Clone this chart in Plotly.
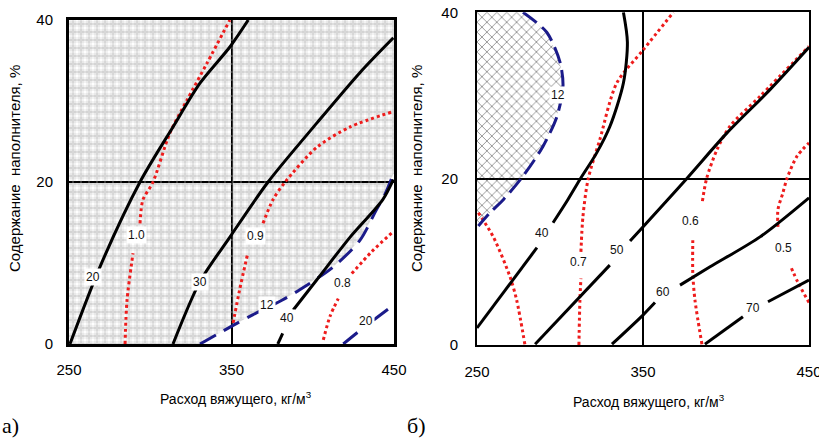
import plotly.graph_objects as go

# ---------------- data ----------------
X_TICKS = [250, 350, 450]
Y_TICKS = [0, 20, 40]
X_TITLE = "Расход вяжущего, кг/м<sup>3</sup>"
Y_TITLE = "Содержание  наполнителя, %"

# panel a) black solid isolines
A_S20_X = [250.6, 269, 293.7, 314, 330.6, 349.1, 360.3]
A_S20_Y = [0, 9.5, 20, 26.8, 32.2, 36.7, 40]
A_S30_X = [314, 330.6, 349, 372.5, 402.6, 429, 449.6]
A_S30_Y = [0, 7.7, 13.2, 20, 27.3, 33.5, 37.8]
A_S40_X = [378.5, 381.5, None, 388, 402.4, 423, 443, 449.6]
A_S40_Y = [0, 1.3, None, 4.2, 7.9, 13.2, 17.8, 20.3]
# panel a) red dotted isolines
A_R10_X = [284.5, 285.7, 289.4, None, 293.7, 295.5, 301.7, 312, 322.6, 335, 349]
A_R10_Y = [0, 5.4, 11.2, None, 14.9, 17.8, 20, 26, 30.1, 34.7, 40]
A_R09_X = [351, 355, 360, None, 369.4, 375.5, 383, 402.6, 423, 449.6]
A_R09_Y = [2.6, 6.7, 11.2, None, 14.9, 17.8, 20, 24.3, 26.8, 28.7]
A_R08_X = [406.5, 410.6, 415.7, None, 424, 436.3, 449.6]
A_R08_Y = [0.5, 3.4, 5.6, None, 8.7, 11.4, 13.9]
# panel a) blue dashed isolines
A_B12_X = [330.6, 351, 363, 381, 392, 412.5, 429, 439, 444.5, 449.6]
A_B12_Y = [0, 2.3, 3.6, 5.4, 6.7, 9.5, 12.8, 16.5, 18.5, 21]
A_B20_X = [418.8, 428, 449.6]
A_B20_Y = [0, 1.5, 4.8]

# panel б) black solid isolines
B_S40_X = [250, 286.1, None, 295.8, 304.8, 312, 322.1, 330.1, 338.2, 340.6, 338.2]
B_S40_Y = [2.05, 11.7, None, 14.7, 17.5, 19.9, 23.1, 26.3, 31.5, 36.4, 40]
B_S50_X = [285, 330, None, 342.2, 376.3, 400.6, 426.5, 450]
B_S50_Y = [0.1, 9.6, None, 12.5, 20, 25.5, 30.7, 35.8]
B_S60_X = [331.3, 350, 357.2, None, 372.3, 390.4, 420.5, 450]
B_S60_Y = [0.1, 3.6, 5.1, None, 7.2, 9.4, 13, 17.7]
B_S70_X = [387.3, 410.2, None, 425.3, 450]
B_S70_Y = [0.1, 3.4, None, 5.2, 7.8]
# panel б) red dotted isolines
B_R08_X = [250.8, 259.8, 269.9, 273.9, 278.9]
B_R08_Y = [15.9, 13, 8.2, 5.4, 0]
B_R07_X = [311.4, 312, 312.6, None, 312.6, 313.8, 316.9, 324, 334.2, 350.2, 368.3]
B_R07_Y = [0, 5.4, 8, None, 11.2, 15.4, 19.9, 24.7, 31.5, 35.5, 40]
B_R06_X = [385.5, 381.3, 380, 380, None, 385.8, 388.3, 394.6, 402.4, 420.5, 450]
B_R06_Y = [0.1, 5.4, 8.6, 12.6, None, 17.3, 20, 23.5, 26.3, 29.9, 35.9]
B_R05_X = [450, 443.4, 438.6, None, 431.3, 431.3, 434.3, 436.7, 442.8, 450]
B_R05_Y = [5.1, 7.5, 9.6, None, 14.2, 16.3, 18.3, 20, 22.7, 24.3]
# panel б) blue dashed isoline bounding the hatched zone
B_B12_X = [277.7, 292, 300, 301.8, 298.2, 289.8, 277.7, 266, 257.8, 250.8]
B_B12_Y = [40, 37.6, 34, 31.1, 27.5, 23.9, 20.3, 17.5, 15.9, 14.3]

# isoline labels: (text, x, y)
A_LABELS = [("20", 264.8, 8.3), ("30", 330.6, 7.7), ("40", 384.2, 3.2),
            ("1.0", 291.8, 13.5), ("0.9", 364.5, 13.3), ("0.8", 418.6, 7.5),
            ("12", 371.8, 4.8), ("20", 432.8, 2.8)]
B_LABELS = [("12", 298.8, 30), ("40", 289, 13.5), ("50", 334.2, 11.4),
            ("60", 362.2, 6.4), ("70", 416.4, 4.5), ("0.7", 311, 10),
            ("0.6", 378.9, 14.9), ("0.5", 434.5, 11.65)]

# ---------------- figure ----------------
W, H = 819, 438
BLACK = "#000000"
RED = "#ee1c1c"
NAVY = "#1b1b8a"

fig = go.Figure()

def line(x, y, color, width, dash, xa="x", ya="y"):
    fig.add_trace(go.Scatter(x=x, y=y, mode="lines", xaxis=xa, yaxis=ya,
                             line=dict(color=color, width=width, dash=dash, shape="spline", smoothing=0.8),
                             connectgaps=False, hoverinfo="skip", showlegend=False))

# hatched zone, panel a) (grid paper)
hx = [X_TICKS[0]] + A_B12_X + [X_TICKS[-1], X_TICKS[-1], X_TICKS[0]]
hy = [Y_TICKS[0]] + A_B12_Y + [A_B12_Y[-1], Y_TICKS[-1], Y_TICKS[-1]]
fig.add_trace(go.Scatter(x=hx, y=hy, fill="toself", mode="none", xaxis="x", yaxis="y",
                         fillcolor="rgba(0,0,0,0)",
                         fillpattern=dict(shape="+", size=8, solidity=0.3, fgcolor="#a8a8a8",
                                          bgcolor="rgba(255,255,255,0)"),
                         hoverinfo="skip", showlegend=False))
fig.add_trace(go.Scatter(x=hx, y=hy, fill="toself", mode="none", xaxis="x", yaxis="y",
                         fillcolor="rgba(0,0,0,0)",
                         fillpattern=dict(shape="+", size=4, solidity=0.1, fgcolor="#000000",
                                          fgopacity=0.45, bgcolor="rgba(255,255,255,0)"),
                         hoverinfo="skip", showlegend=False))

# hatched zone, panel б) (cross hatch)
bx = B_B12_X + [X_TICKS[0], X_TICKS[0]]
by = B_B12_Y + [B_B12_Y[-1], Y_TICKS[-1]]
fig.add_trace(go.Scatter(x=bx, y=by, fill="toself", mode="none", xaxis="x2", yaxis="y2",
                         fillcolor="rgba(0,0,0,0)",
                         fillpattern=dict(shape="x", size=7, solidity=0.25, fgcolor="#2a2a2a",
                                          bgcolor="rgba(255,255,255,0)"),
                         hoverinfo="skip", showlegend=False))

# panel a) lines
for xs, ys in [(A_R10_X, A_R10_Y), (A_R09_X, A_R09_Y), (A_R08_X, A_R08_Y)]:
    line(xs, ys, RED, 3, "3px,3px")
line(A_B12_X, A_B12_Y, NAVY, 3, "18px,9px")
line(A_B20_X, A_B20_Y, NAVY, 3, "18px,9px,3px,9px")
for xs, ys in [(A_S20_X, A_S20_Y), (A_S30_X, A_S30_Y), (A_S40_X, A_S40_Y)]:
    line(xs, ys, BLACK, 3, "solid")

# panel б) lines
for xs, ys in [(B_R08_X, B_R08_Y), (B_R07_X, B_R07_Y), (B_R06_X, B_R06_Y), (B_R05_X, B_R05_Y)]:
    line(xs, ys, RED, 3, "3px,3px", "x2", "y2")
line(B_B12_X, B_B12_Y, NAVY, 3, "17px,7px", "x2", "y2")
for xs, ys in [(B_S40_X, B_S40_Y), (B_S50_X, B_S50_Y), (B_S60_X, B_S60_Y), (B_S70_X, B_S70_Y)]:
    line(xs, ys, BLACK, 3, "solid", "x2", "y2")

lab_font = dict(family="Liberation Sans", size=12, color="#111")
ann = []
for txt, x, y in A_LABELS:
    ann.append(dict(text=txt, x=x, y=y, xref="x", yref="y", showarrow=False, bgcolor="white",
                    borderpad=1, font=lab_font))
for txt, x, y in B_LABELS:
    ann.append(dict(text=txt, x=x, y=y, xref="x2", yref="y2", showarrow=False, bgcolor="white",
                    borderpad=1, font=lab_font))

def paper_text(text, px, py, size, family="Liberation Sans", angle=0):
    return dict(text=text, x=px / W, y=1 - py / H, xref="paper", yref="paper", showarrow=False,
                xanchor="center", yanchor="middle", textangle=angle,
                font=dict(family=family, size=size, color="black"))

# axis titles and panel letters
ann += [
    paper_text(X_TITLE, 236, 398, 14),
    paper_text(X_TITLE, 649, 401, 14),
    paper_text(Y_TITLE, 14, 169, 15, angle=-90),
    paper_text(Y_TITLE, 416, 169, 15, angle=-90),
    paper_text("а)", 10, 425, 22, family="Liberation Serif"),
    paper_text("б)", 416, 425, 22, family="Liberation Serif"),
]

axis_common = dict(showgrid=True, gridcolor=BLACK, gridwidth=2, showline=True, linecolor=BLACK,
                   mirror=True, zeroline=False, ticks="", fixedrange=True, automargin=False,
                   ticklabeloverflow="allow",
                   tickfont=dict(family="Liberation Sans", size=15, color="black"))

fig.update_layout(
    width=W, height=H, margin=dict(l=0, r=0, t=0, b=0, autoexpand=False),
    paper_bgcolor="white", plot_bgcolor="white",
    xaxis=dict(domain=[69 / W, 394 / W], range=[250, 450], tickvals=X_TICKS, anchor="y",
               linewidth=3, ticklabelstandoff=10, **axis_common),
    yaxis=dict(domain=[1 - 344 / H, 1 - 20 / H], range=[0, 40], tickvals=Y_TICKS, anchor="x",
               linewidth=3, ticklabelstandoff=10, **axis_common),
    xaxis2=dict(domain=[477 / W, 809 / W], range=[250, 450], tickvals=X_TICKS, anchor="y2",
                linewidth=2, ticklabelstandoff=12, **axis_common),
    yaxis2=dict(domain=[1 - 345 / H, 1 - 12.3 / H], range=[0, 40], tickvals=Y_TICKS, anchor="x2",
                linewidth=2, ticklabelstandoff=14, **axis_common),
    annotations=ann,
)

fig.write_html("out.html", config={"displayModeBar": False},
               post_script="document.body.style.margin='0';document.body.style.overflow='hidden';")
